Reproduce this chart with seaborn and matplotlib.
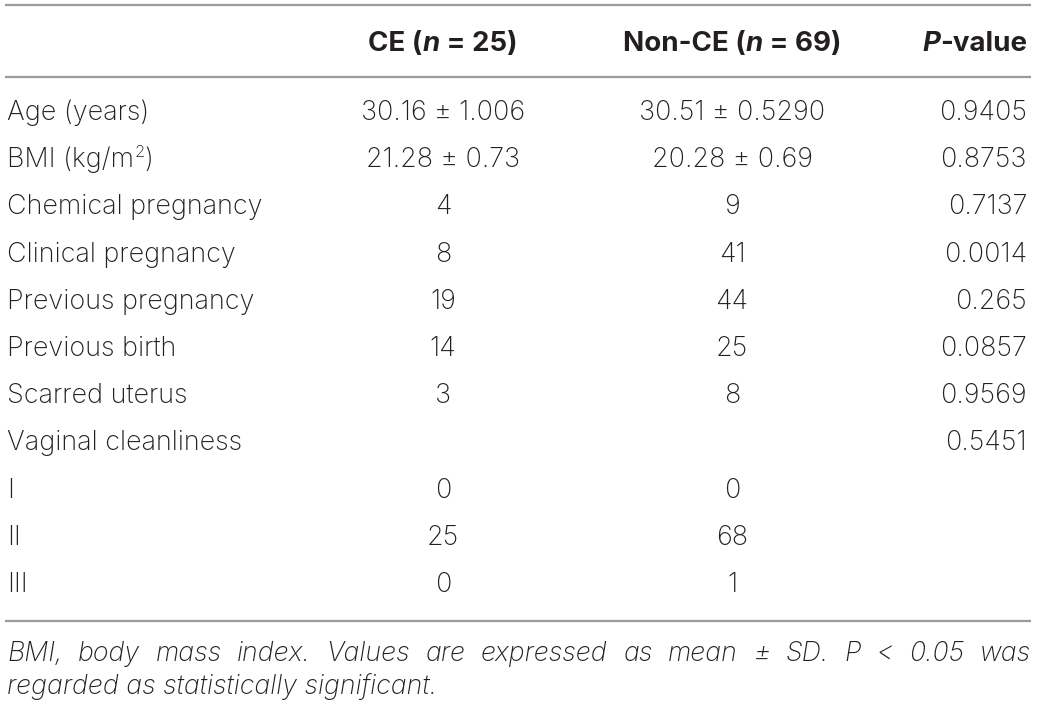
import matplotlib
matplotlib.use("Agg")
import matplotlib.pyplot as plt
import seaborn as sns

sns.set_theme(style="white")
plt.rcParams['font.family'] = ['Inter', 'Liberation Sans', 'DejaVu Sans']

# ---- data ----
row_labels = ["Age (years)", "BMI (kg/m2)", "Chemical pregnancy", "Clinical pregnancy",
              "Previous pregnancy", "Previous birth", "Scarred uterus",
              "Vaginal cleanliness", "I", "II", "III"]
ce_values = ["30.16 \u00b1 1.006", "21.28 \u00b1 0.73", "4", "8", "19", "14", "3", "", "0", "25", "0"]
nonce_values = ["30.51 \u00b1 0.5290", "20.28 \u00b1 0.69", "9", "41", "44", "25", "8", "", "0", "68", "1"]
p_values = ["0.9405", "0.8753", "0.7137", "0.0014", "0.265", "0.0857", "0.9569", "0.5451", "", "", ""]
header_ce = [("CE (", "bold", "normal"), ("n", "bold", "italic"), (" = 25)", "bold", "normal")]
header_nonce = [("Non-CE (", "bold", "normal"), ("n", "bold", "italic"), (" = 69)", "bold", "normal")]
header_p = [("P", "bold", "italic"), ("-value", "bold", "normal")]
footnote_line1 = "BMI, body mass index. Values are expressed as mean \u00b1 SD. P < 0.05 was"
footnote_line2 = "regarded as statistically significant."

# ---- layout ----
W, H = 1040, 707
TXT = "#231f20"
LINE = "#9a9a9a"
BODYW = "light"

fig = plt.figure(figsize=(W / 100, H / 100), dpi=100)
ax = fig.add_axes([0, 0, 1, 1])
ax.set_xlim(0, W)
ax.set_ylim(H, 0)
ax.axis("off")
renderer = fig.canvas.get_renderer()


def text_width(s, size, weight, style):
    if s == "":
        return 0.0
    t = ax.text(0, 0, s + "|", fontsize=size, fontweight=weight, fontstyle=style)
    b = ax.text(0, 0, "|", fontsize=size, fontweight=weight, fontstyle=style)
    w = t.get_window_extent(renderer).width - b.get_window_extent(renderer).width
    t.remove(); b.remove()
    return w


# fit font sizes to the measured widths of reference strings
FS = 20 * 255.0 / text_width("Chemical pregnancy", 20, BODYW, "normal")
HFS = 20 * 149.0 / text_width("CE (n = 25)", 20, "bold", "normal")
FFS = 20 * 430.0 / text_width(footnote_line2, 20, BODYW, "italic")


def draw_runs(x, y, runs, ha="left", size=FS):
    # runs: (text, weight, style[, size_scale, dy])
    widths = []
    for r in runs:
        sc = r[3] if len(r) > 3 else 1.0
        widths.append(text_width(r[0], size * sc, r[1], r[2]))
    total = sum(widths)
    if ha == "center":
        x0 = x - total / 2
    elif ha == "right":
        x0 = x - total
    else:
        x0 = x
    for r, w in zip(runs, widths):
        sc = r[3] if len(r) > 3 else 1.0
        dy = r[4] if len(r) > 4 else 0.0
        ax.text(x0, y + dy, r[0], fontsize=size * sc, fontweight=r[1], fontstyle=r[2],
                color=TXT, va="baseline", ha="left")
        x0 += w


def justify(x0, x1, y, s, size, weight, style):
    words = s.split(" ")
    ws = [text_width(w, size, weight, style) for w in words]
    gap = (x1 - x0 - sum(ws)) / (len(words) - 1)
    x = x0
    for w, wd in zip(words, ws):
        ax.text(x, y, w, fontsize=size, fontweight=weight, fontstyle=style,
                color=TXT, va="baseline", ha="left")
        x += wd + gap


# rules
for yy in (5, 77, 621):
    ax.plot([5, 1031], [yy, yy], color=LINE, lw=1.6, solid_capstyle="butt")

# header
HB = 51
draw_runs(443, HB, header_ce, ha="center", size=HFS)
draw_runs(732, HB, header_nonce, ha="center", size=HFS)
draw_runs(1027, HB, header_p, ha="right", size=HFS)

# body
y0, dy = 120, 47.2
for i, (lab, c, n, p) in enumerate(zip(row_labels, ce_values, nonce_values, p_values)):
    yb = y0 + i * dy
    if lab == "BMI (kg/m2)":
        draw_runs(7, yb, [("BMI (kg/m", BODYW, "normal"), ("2", BODYW, "normal", 0.62, -10),
                          (")", BODYW, "normal")])
    else:
        ax.text(7, yb, lab, fontsize=FS, fontweight=BODYW, color=TXT, va="baseline", ha="left")
    ax.text(443, yb, c, fontsize=FS, fontweight=BODYW, color=TXT, va="baseline", ha="center")
    ax.text(732, yb, n, fontsize=FS, fontweight=BODYW, color=TXT, va="baseline", ha="center")
    ax.text(1027, yb, p, fontsize=FS, fontweight=BODYW, color=TXT, va="baseline", ha="right")

# footnote
justify(7, 1031, 661, footnote_line1, FFS, BODYW, "italic")
ax.text(7, 694, footnote_line2, fontsize=FFS, fontweight=BODYW, fontstyle="italic",
        color=TXT, va="baseline", ha="left")

fig.savefig("out.png", dpi=100)
